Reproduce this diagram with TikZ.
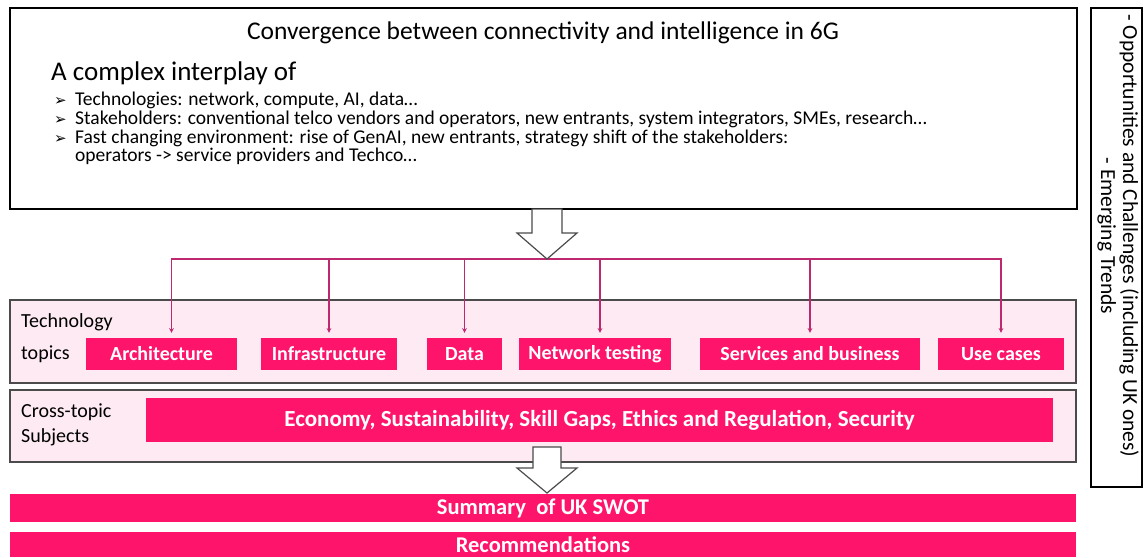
\documentclass[tikz,border=0pt]{standalone}
\usepackage{fontspec}
\setmainfont{Carlito}
\newfontfamily\symfont{DejaVu Sans}

\definecolor{hotpink}{RGB}{255,20,108}
\definecolor{feedpink}{RGB}{190,40,110}
\definecolor{panelpink}{RGB}{253,234,242}
\definecolor{panelgray}{RGB}{75,75,75}

\begin{document}
\begin{tikzpicture}[x=1pt, y=-1pt,
    ctxbox/.style={rectangle, draw=black, line width=1.6pt, inner sep=0pt},
    panel/.style={rectangle, draw=panelgray, line width=1.2pt, fill=panelpink, inner sep=0pt},
    topic/.style={rectangle, fill=hotpink, text=white, inner sep=0pt, minimum height=32pt, font=\fontsize{20}{23}\selectfont\bfseries},
    bar/.style={rectangle, fill=hotpink, text=white, inner sep=0pt, minimum width=1066pt, font=\fontsize{22.5}{25}\selectfont\bfseries},
    rowlabel/.style={anchor=west, align=left, inner sep=0pt},
    bulletline/.style={anchor=west, inner sep=0pt, font=\fontsize{19.5}{22}\selectfont},
    feed/.style={->, >=stealth, draw=feedpink, line width=1.1pt, shorten >=5pt},
    hollow/.style={draw=panelgray, line width=1.2pt, fill=white}
]
\useasboundingbox (0,0) rectangle (1145,557);

% Context box
\node[ctxbox, minimum width=1067pt, minimum height=201pt] (context) at (543.5,108.5) {};
\node[font=\fontsize{25.5}{29}\selectfont] (title) at (543,33) {Convergence between connectivity and intelligence in 6G};
\node[rowlabel, font=\fontsize{27}{31}\selectfont] (interplay) at (51,73) {A complex interplay of};
\node[bulletline] (techs) at (54,100) {\makebox[21pt][l]{\symfont\fontsize{15}{17}\selectfont ➢}Technologies: network, compute, AI, data…};
\node[bulletline] (actors) at (54,119) {\makebox[21pt][l]{\symfont\fontsize{15}{17}\selectfont ➢}Stakeholders: conventional telco vendors and operators, new entrants, system integrators, SMEs, research…};
\node[bulletline] (change) at (54,138) {\makebox[21pt][l]{\symfont\fontsize{15}{17}\selectfont ➢}Fast changing environment: rise of GenAI, new entrants, strategy shift of the stakeholders:};
\node[bulletline] (shift) at (75,156) {operators -> service providers and Techco…};

% Side box
\node[ctxbox, minimum width=51pt, minimum height=479pt] (side) at (1116.5,247.5) {};
\node[rotate=-90, align=center, font=\fontsize{21.5}{22}\selectfont] (sidetext) at (1118,236) {- Opportunities and Challenges (including UK ones)\\- Emerging Trends};

% Technology topics
\node[panel, minimum width=1066pt, minimum height=83pt] (techPanel) at (543,341.5) {};
\node[rowlabel, font=\fontsize{20}{32}\selectfont] (techLabel) at (21,338) {Technology\\topics};
\node[topic, minimum width=151pt] (arch) at (161.5,354) {Architecture};
\node[topic, minimum width=136pt] (infra) at (329,354) {Infrastructure};
\node[topic, minimum width=75pt] (data) at (464.5,354) {Data};
\node[topic, minimum width=152pt] (nettest) at (595,354) {Network testing};
\node[topic, minimum width=220pt] (services) at (810,354) {Services and business};
\node[topic, minimum width=126pt] (usecases) at (1001,354) {Use cases};

% Feed from context to topics
\coordinate (split) at (547,259);
\draw[feed] (split) -| ([xshift=10pt]arch.north);
\draw[feed] (split) -| (infra.north);
\draw[feed] (split) -| (data.north);
\draw[feed] (split) -| ([xshift=5pt]nettest.north);
\draw[feed] (split) -| (services.north);
\draw[feed] (split) -| (usecases.north);
\draw[hollow] (split) -- ++(30,-26) -- ++(-15,0) -- ++(0,-24) -- ++(-30,0) -- ++(0,24) -- ++(-15,0) -- cycle;

% Cross-topic subjects
\node[panel, minimum width=1066pt, minimum height=72pt] (crossPanel) at (543,426) {};
\node[rowlabel, font=\fontsize{20}{25}\selectfont] (crossLabel) at (21,425) {Cross-topic\\Subjects};
\node[bar, minimum width=907pt, minimum height=44pt, font=\fontsize{23}{26}\selectfont\bfseries] (crossBar) at (599.5,420) {Economy, Sustainability, Skill Gaps, Ethics and Regulation, Security};

% Outcomes
\coordinate (merge) at (547,493);
\draw[hollow] (merge) -- ++(30,-25) -- ++(-16,0) -- ++(0,-21) -- ++(-28,0) -- ++(0,21) -- ++(-16,0) -- cycle;
\node[bar, minimum height=28pt] (swot) at (543,508) {Summary\ \ of UK SWOT};
\node[bar, minimum height=25pt] (recs) at (543,544.5) {Recommendations};

\end{tikzpicture}
\end{document}
